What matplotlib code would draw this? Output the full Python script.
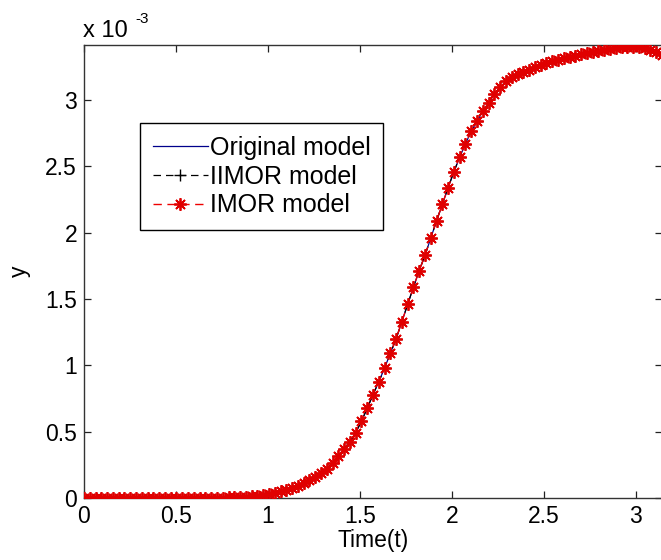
import numpy as np
import matplotlib
matplotlib.use("Agg")
import matplotlib.pyplot as plt
from matplotlib.ticker import FuncFormatter

plt.rcParams['font.family'] = ['Liberation Sans', 'DejaVu Sans']

# Sampled time grid (101 samples over [0, pi])
t = np.linspace(0, np.pi, 101)

# Output y, in units of 1e-3
y_original = [
    0.000, 0.000, 0.000, 0.000, 0.000, 0.000, 0.000, 0.000, 0.000, 0.000,
    0.000, 0.000, 0.000, 0.000, 0.000, 0.000, 0.000, 0.000, 0.000, 0.000,
    0.000, 0.001, 0.001, 0.002, 0.003, 0.004, 0.005, 0.007, 0.009, 0.012,
    0.017, 0.023, 0.031, 0.040, 0.050, 0.062, 0.076, 0.092, 0.112, 0.135,
    0.160, 0.188, 0.220, 0.265, 0.318, 0.370, 0.425, 0.490, 0.580, 0.675,
    0.780, 0.875, 0.980, 1.090, 1.200, 1.330, 1.460, 1.590, 1.715, 1.830,
    1.960, 2.090, 2.215, 2.340, 2.460, 2.570, 2.670, 2.765, 2.840, 2.915,
    2.980, 3.045, 3.095, 3.140, 3.175, 3.195, 3.210, 3.225, 3.250, 3.265,
    3.280, 3.295, 3.305, 3.315, 3.325, 3.335, 3.345, 3.355, 3.362, 3.370,
    3.378, 3.385, 3.392, 3.398, 3.402, 3.402, 3.398, 3.390, 3.378, 3.362,
    3.340,
]
y_iimor = list(y_original)
y_imor = list(y_original)

x_ticks = [0, 0.5, 1, 1.5, 2, 2.5, 3]
y_ticks = [0, 0.5, 1, 1.5, 2, 2.5, 3]
labels = ['Original model', 'IIMOR model', 'IMOR model']

W, H = 661, 560
fig = plt.figure(figsize=(W / 100, H / 100), dpi=100)
ax = fig.add_axes([84 / W, 62 / H, 578 / W, 453 / H])

ax.plot(t, y_original, color='#00008b', lw=0.9, label=labels[0], zorder=1.5)
ax.plot(t, y_iimor, color='black', ls=(0, (6, 4)), lw=0.9, marker='+', ms=8,
        mew=1.0, label=labels[1], zorder=2)
ax.plot(t, y_imor, color='#ee0000', ls=(0, (6, 4)), lw=1.0, marker=(8, 2, 0),
        ms=9, mew=1.3, mec='#e00000', label=labels[2], zorder=3)

ax.set_xlim(0, np.pi)
ax.set_ylim(0, 3.415)
ax.set_xticks(x_ticks)
ax.set_yticks(y_ticks)
fmt = FuncFormatter(lambda v, p: '%g' % v)
ax.xaxis.set_major_formatter(fmt)
ax.yaxis.set_major_formatter(fmt)
ax.tick_params(direction='in', length=5, width=0.9, labelsize=16.5,
               top=True, right=True, pad=5, colors='#222222', labelcolor='black')
for s in ax.spines.values():
    s.set_linewidth(1.0)
    s.set_color('#333333')

ax.set_xlabel('Time(t)', fontsize=16.5, labelpad=1)
ax.set_ylabel('y', fontsize=16.5, labelpad=10)

fig.text(83 / W, 1 - 37 / H, 'x 10', fontsize=17, ha='left', va='baseline')
fig.text(135 / W, 1 - 23 / H, '-3', fontsize=11, ha='left', va='baseline')

leg = ax.legend(loc='upper left', bbox_to_anchor=(140 / W, 1 - 123 / H),
                bbox_transform=fig.transFigure, fontsize=18, frameon=True,
                fancybox=False, framealpha=1, edgecolor='black',
                handlelength=2.2, handletextpad=0.1, labelspacing=0.2,
                borderpad=0.5, borderaxespad=0)
leg.get_frame().set_linewidth(1.0)

fig.savefig('out.png', dpi=100)
